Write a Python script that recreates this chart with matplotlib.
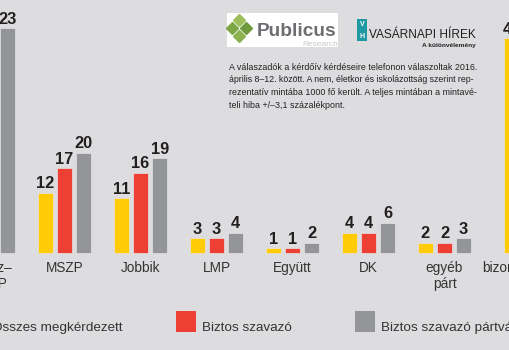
import numpy as np
import matplotlib
matplotlib.use("Agg")
import matplotlib.pyplot as plt
from matplotlib.patches import Rectangle

plt.rcParams['font.family'] = ['Liberation Sans', 'DejaVu Sans']

# adatok (a kép széle levágja a Fidesz sárga/piros és a bizonytalan további oszlopait)
parties = ["Fidesz–\nKDNP", "MSZP", "Jobbik", "LMP", "Együtt", "DK", "egyéb\npárt", "bizonytalan"]
osszes = [np.nan, 12, 11, 3, 1, 4, 2, 43]
biztos = [np.nan, 17, 16, 3, 1, 4, 2, np.nan]
partvalaszto = [45, 20, 19, 4, 2, 6, 3, np.nan]
partvalaszto_felirat = ["23", "20", "19", "4", "2", "6", "3", ""]
legend_labels = ["Összes megkérdezett", "Biztos szavazó", "Biztos szavazó pártválasztó"]

note = ["A válaszadók a kérdőív kérdéseire telefonon válaszoltak 2016.",
        "április 8–12. között. A nem, életkor és iskolázottság szerint rep-",
        "rezentatív mintába 1000 fő került. A teljes mintában a mintavé-",
        "teli hiba +/–3,1 százalékpont."]

YELLOW = "#ffcb05"
RED = "#ee3f34"
GRAY = "#939598"
BG = "#dddddf"
TXT = "#231f20"

W, H = 510, 350


def px(x, y):
    # pixel (bal felső sarok) -> figure koordináta
    return x / W, 1 - y / H


fig = plt.figure(figsize=(5.1, 3.5), dpi=100, facecolor=BG)
renderer = fig.canvas.get_renderer()


def fit(t, width):
    # betűméret igazítása a megadott pixelszélességhez
    w = t.get_window_extent(renderer).width
    t.set_fontsize(t.get_fontsize() * width / w)
    return t


ax = fig.add_axes([0, 0, 1, 1])
ax.set_facecolor(BG)
ax.set_xlim(0.151, 6.862)
ax.set_ylim(-19.4, 50.6)
ax.axis("off")

pos = np.array([0, 1, 2, 3, 4, 5, 6, 7.14])
off = 0.2526
bw = 0.197

series = [(osszes, -off, YELLOW), (biztos, 0, RED), (partvalaszto, off, GRAY)]
for vals, dx, col in series:
    ax.bar(pos + dx, vals, width=bw, color=col, edgecolor="#e4e4e4", linewidth=0.5)

for i in range(len(parties)):
    for j, (vals, dx, col) in enumerate(series):
        v = vals[i]
        if np.isnan(v):
            continue
        if j == 2:
            s = partvalaszto_felirat[i]
        else:
            s = str(int(v))
        ax.text(pos[i] + dx, v + 0.9, s, ha="center", va="baseline",
                fontsize=11.8, fontweight="bold", color=TXT)

label_x = pos.copy()
label_x[-1] = pos[-1] - off + 0.06
for x, name in zip(label_x, parties):
    ax.text(x, -1.6, name, ha="center", va="top", fontsize=9.8,
            color="#333333", linespacing=1.2, multialignment="center")

# jelmagyarázat
t = fig.text(*px(123, 331), legend_labels[0], ha="right", va="baseline", fontsize=9.5, color="#333333")
for sx, col, lab in [(176, RED, legend_labels[1]), (355, GRAY, legend_labels[2])]:
    x0, y0 = px(sx, 332)
    fig.patches.append(Rectangle((x0, y0), 20 / W, 21 / H, transform=fig.transFigure,
                                 facecolor=col, edgecolor="none"))
    fig.text(*px(sx + 26, 331), lab, ha="left", va="baseline", fontsize=t.get_fontsize(), color="#333333")
fit(t, 131)
for tt in fig.texts[-2:]:
    tt.set_fontsize(t.get_fontsize())

# Publicus logó
x0, y0 = px(227, 47)
fig.patches.append(Rectangle((x0, y0), 111 / W, 34 / H, transform=fig.transFigure,
                             facecolor="white", edgecolor="none"))
for (dx, dy, c) in [(239, 20, "#9cbf5a"), (232, 28, "#7da645"), (246, 28, "#6f9a3c"), (239, 36, "#8bb24e")]:
    fig.lines.append(plt.Line2D([dx / W], [1 - dy / H], transform=fig.transFigure,
                                marker="D", markersize=6, color=c, linestyle="none"))
fit(fig.text(*px(257, 36), "Publicus", ha="left", va="baseline", fontsize=17,
             fontweight="bold", color="#6d6e71"), 80)
fit(fig.text(*px(338, 45.5), "Research", ha="right", va="baseline", fontsize=5.5,
             color="#c8c8c8"), 36)

# Vasárnapi Hírek logó
x0, y0 = px(357, 41)
fig.patches.append(Rectangle((x0, y0), 10 / W, 22 / H, transform=fig.transFigure,
                             facecolor="#1f9aa3", edgecolor="none"))
fig.text(*px(362, 25), "V", ha="center", va="center", fontsize=5, fontweight="bold", color="white")
fig.text(*px(362, 36), "H", ha="center", va="center", fontsize=5, fontweight="bold", color="white")
fit(fig.text(*px(369, 38), "VASÁRNAPI HÍREK", ha="left", va="baseline", fontsize=12,
             color="#231f20"), 107)
fit(fig.text(*px(476, 47), "A különvélemény", ha="right", va="baseline", fontsize=5,
             fontweight="bold", color="#231f20"), 54)

# módszertani megjegyzés (sorkizárt sorok)
lines = []
for k, line in enumerate(note):
    lines.append(fig.text(*px(229, 70 + 12.5 * k), line, ha="left", va="baseline", fontsize=7,
                          color="#231f20"))
for tt in lines[:3]:
    fit(tt, 246)
lines[3].set_fontsize(np.mean([tt.get_fontsize() for tt in lines[:3]]))

fig.savefig("out.png", dpi=100, facecolor=BG)
